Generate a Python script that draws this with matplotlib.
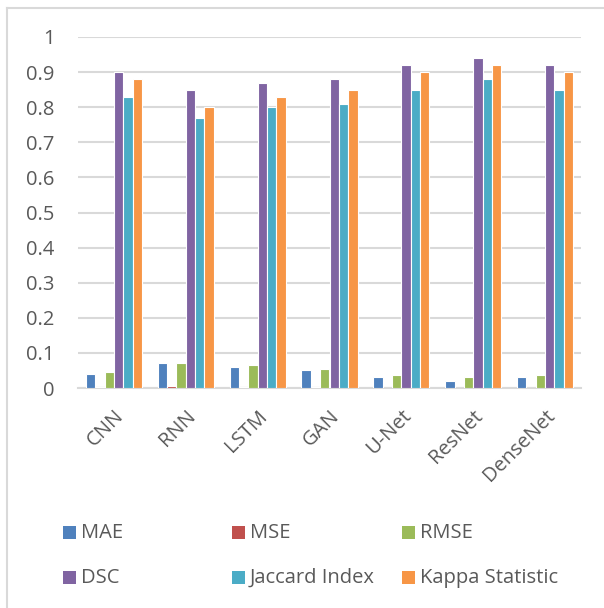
import numpy as np
import matplotlib.pyplot as plt
from matplotlib.patches import Rectangle
from matplotlib.lines import Line2D

plt.rcParams['font.family'] = ['Open Sans', 'DejaVu Sans']

models = ['CNN', 'RNN', 'LSTM', 'GAN', 'U-Net', 'ResNet', 'DenseNet']
mae = [0.04, 0.07, 0.06, 0.05, 0.03, 0.02, 0.03]
mse = [0.0016, 0.0049, 0.0036, 0.0025, 0.0009, 0.0004, 0.0009]
rmse = [0.045, 0.072, 0.065, 0.055, 0.038, 0.032, 0.038]
dsc = [0.90, 0.85, 0.87, 0.88, 0.92, 0.94, 0.92]
jaccard = [0.83, 0.77, 0.80, 0.81, 0.85, 0.88, 0.85]
kappa = [0.88, 0.80, 0.83, 0.85, 0.90, 0.92, 0.90]

series = [('MAE', mae), ('MSE', mse), ('RMSE', rmse),
          ('DSC', dsc), ('Jaccard Index', jaccard), ('Kappa Statistic', kappa)]
colors = ['#4F81BD', '#C0504D', '#9BBB59', '#8064A2', '#4BACC6', '#F79646']
text_color = '#595959'
grid_color = '#D9D9D9'
fs = 14.5

W, H = 604, 608
fig = plt.figure(figsize=(W / 100, H / 100), dpi=100)
ax = fig.add_axes([78 / W, 1 - 388 / H, 503 / W, 351 / H])

x = np.arange(len(models))
bw = 0.13
for i, (name, vals) in enumerate(series):
    ax.bar(x + (i - 2.5) * bw, vals, width=bw, color=colors[i],
           edgecolor='white', linewidth=0.8, zorder=3)

ax.set_xlim(-0.5, len(models) - 0.5)
ax.set_ylim(0, 1)
ax.set_yticks(np.arange(0, 1.01, 0.1))
ax.set_yticklabels(['0', '0.1', '0.2', '0.3', '0.4', '0.5', '0.6', '0.7', '0.8', '0.9', '1'])
ax.yaxis.grid(True, color=grid_color, linewidth=1.5, zorder=0)
ax.set_axisbelow(True)
for s in ['top', 'right', 'left']:
    ax.spines[s].set_visible(False)
ax.spines['bottom'].set_color(grid_color)
ax.spines['bottom'].set_linewidth(1.5)
ax.tick_params(axis='y', length=0, pad=17, labelsize=fs, labelcolor=text_color)
ax.tick_params(axis='x', length=0, pad=13, labelsize=fs, labelcolor=text_color)
ax.set_xticks(x)
ax.set_xticklabels(models, rotation=45, ha='right', va='top', rotation_mode='anchor')

# legend laid out in a fixed 3x2 grid
leg_x = [63, 232, 402]
leg_y = [532, 577]
for i, (name, _) in enumerate(series):
    px = leg_x[i % 3]
    py = leg_y[i // 3]
    fig.patches.append(Rectangle((px / W, 1 - (py + 6.5) / H), 13 / W, 13 / H,
                                 transform=fig.transFigure, facecolor=colors[i],
                                 edgecolor='none'))
    fig.text((px + 18) / W, 1 - (py + 1) / H, name, fontsize=fs, color=text_color,
             ha='left', va='center')

# chart frame
fig.add_artist(Line2D([7.5 / W, 1], [1 - 7.5 / H, 1 - 7.5 / H],
                      transform=fig.transFigure, color=grid_color, linewidth=1.5))
fig.add_artist(Line2D([7.5 / W, 7.5 / W], [0, 1 - 7.5 / H],
                      transform=fig.transFigure, color=grid_color, linewidth=1.5))

fig.savefig('out.png', dpi=100)
